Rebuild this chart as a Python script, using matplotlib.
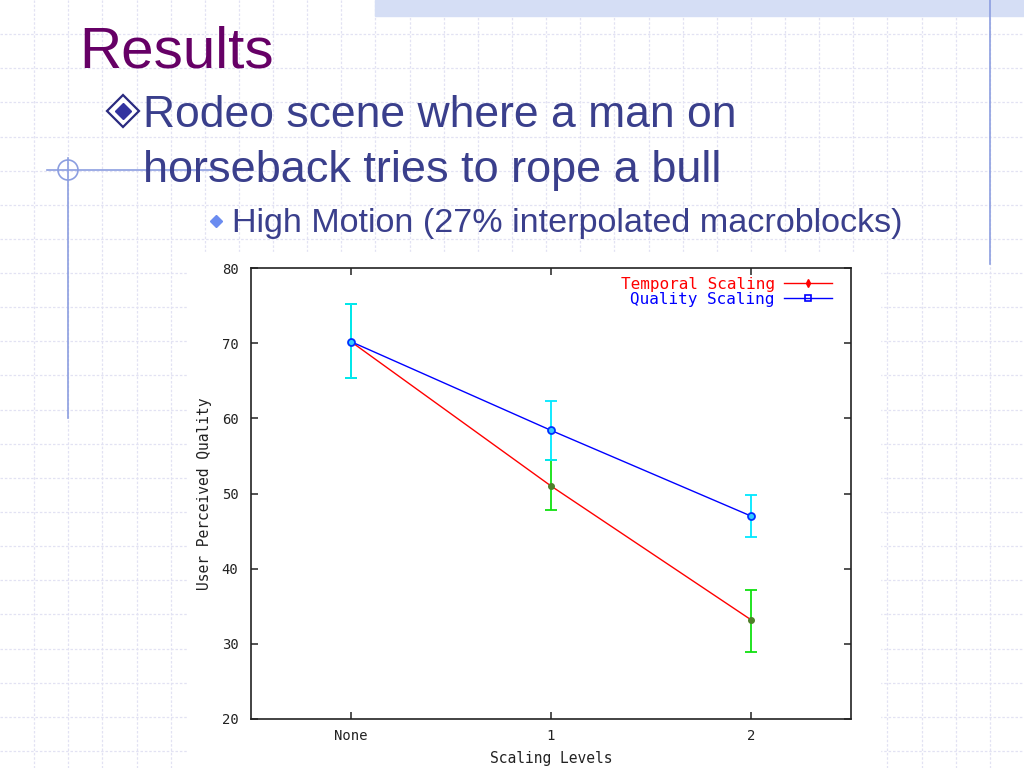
import matplotlib
matplotlib.use("Agg")
import matplotlib.pyplot as plt
from matplotlib.lines import Line2D
from matplotlib.patches import Rectangle, Circle

# Chart data
levels = ["None", "1", "2"]
temporal_mean = [70.2, 51.0, 33.2]
temporal_low = [65.4, 47.8, 28.9]
temporal_high = [75.2, 54.5, 37.2]
quality_mean = [70.2, 58.4, 47.0]
quality_low = [65.4, 54.5, 44.2]
quality_high = [75.2, 62.3, 49.8]

y_ticks = [20, 30, 40, 50, 60, 70, 80]

title = "Results"
bullet_lines = ["Rodeo scene where a man on", "horseback tries to rope a bull"]
sub_bullet = "High Motion (27% interpolated macroblocks)"

SLIDE_FONT = "Liberation Sans"
MONO = "DejaVu Sans Mono"
TEXT_BLUE = "#3a3f8c"

fig = plt.figure(figsize=(10.24, 7.68), dpi=100)

# ---- slide background in pixel coordinates ----
bg = fig.add_axes([0, 0, 1, 1])
bg.set_xlim(0, 1024)
bg.set_ylim(768, 0)
bg.axis("off")

step = 1024 / 30
grid_kw = dict(color="#e2e2f3", lw=0.9, linestyle=(0, (2, 1.5)), zorder=0)
for i in range(1, 30):
    bg.axvline(i * step, **grid_kw)
for j in range(1, 23):
    bg.axhline(j * step, **grid_kw)

# top strip and decorative lines
bg.add_patch(Rectangle((375, 0), 649, 16, color="#d5def5", zorder=1))
bg.plot([990, 990], [0, 264], color="#8c9ee0", lw=1.2, zorder=2)
bg.plot([68, 68], [158, 418], color="#8c9ee0", lw=1.2, zorder=2)
bg.plot([47, 215], [170, 170], color="#8c9ee0", lw=1.2, zorder=2)
bg.add_patch(Circle((68, 170), 10, fill=False, ec="#8c9ee0", lw=1.2, zorder=2))

# white area behind the chart picture
bg.add_patch(Rectangle((188, 252), 692, 516, color="white", zorder=1))

# slide texts
bg.text(79, 67, title, fontsize=42, color="#660066", family=SLIDE_FONT,
        va="baseline", ha="left", zorder=3)
bg.plot(123, 111, marker="D", ms=16.5, mfc="white", mec="#2a2a80", mew=1.6, zorder=3)
bg.plot(123, 111, marker="D", ms=8.5, mfc="#33339f", mec="#33339f", zorder=4)
bg.text(143, 127, bullet_lines[0], fontsize=32, color=TEXT_BLUE, family=SLIDE_FONT,
        va="baseline", ha="left", zorder=3)
bg.text(143, 182, bullet_lines[1], fontsize=32.5, color=TEXT_BLUE, family=SLIDE_FONT,
        va="baseline", ha="left", zorder=3)
bg.plot(216, 221, marker="D", ms=6, mfc="#6b8cf0", mec="#6b8cf0", zorder=3)
bg.text(232, 232, sub_bullet, fontsize=24.6, color=TEXT_BLUE, family=SLIDE_FONT,
        va="baseline", ha="left", zorder=3)

# ---- the chart ----
ax = fig.add_axes([251 / 1024, (768 - 719) / 768, 600 / 1024, 451 / 768])
ax.set_facecolor("white")
x = list(range(len(levels)))

t_err = [[m - lo for m, lo in zip(temporal_mean, temporal_low)],
         [hi - m for m, hi in zip(temporal_mean, temporal_high)]]
q_err = [[m - lo for m, lo in zip(quality_mean, quality_low)],
         [hi - m for m, hi in zip(quality_mean, quality_high)]]

ax.plot(x, temporal_mean, color="#ff0000", lw=1.0, zorder=2)
ax.errorbar(x, temporal_mean, yerr=t_err, fmt="o", ms=4, mfc="#4f7f2a", mec="#4f7f2a",
            ecolor="#10e010", elinewidth=1.3, capsize=4.5, capthick=1.3, zorder=3)
ax.plot(x, quality_mean, color="#0000ff", lw=1.0, zorder=4)
ax.errorbar(x, quality_mean, yerr=q_err, fmt="o", ms=5, mfc="#33ccff", mec="#0030ff",
            mew=1.3, ecolor="#00e8ff", elinewidth=1.3, capsize=4.5, capthick=1.3, zorder=5)

ax.set_xlim(-0.5, 2.5)
ax.set_ylim(20, 80)
ax.set_xticks(x)
ax.set_xticklabels(levels)
ax.set_yticks(y_ticks)
ax.tick_params(direction="in", length=5, width=1.1, top=True, right=True,
               labelsize=10, colors="#222222")
ax.tick_params(axis="y", pad=9)
ax.tick_params(axis="x", pad=7)
for lab in ax.get_xticklabels() + ax.get_yticklabels():
    lab.set_family(MONO)
for sp in ax.spines.values():
    sp.set_linewidth(1.2)
    sp.set_color("#222222")

ax.set_xlabel("Scaling Levels", family=MONO, fontsize=10.5, color="#222222", labelpad=6)
ax.set_ylabel("User Perceived Quality", family=MONO, fontsize=10.5, color="#222222", labelpad=7)

handles = [
    Line2D([], [], color="#ff0000", lw=1.0, marker="d", ms=4, mfc="#ff0000", mec="#ff0000"),
    Line2D([], [], color="#0000ff", lw=1.0, marker="s", ms=4.5, mfc="none", mec="#0000ff", mew=1.2),
]
leg = ax.legend(handles, ["Temporal Scaling", "Quality Scaling"], loc="upper right",
                bbox_to_anchor=(1 - 14 / 600, 1 - 4 / 451),
                frameon=False, markerfirst=False, handlelength=3.0, handletextpad=0.6,
                labelspacing=0.0, borderaxespad=0.0, borderpad=0.3,
                prop={"family": MONO, "size": 11.5})
for txt, col in zip(leg.get_texts(), ["#ff0000", "#0000ff"]):
    txt.set_color(col)

fig.savefig("out.png", dpi=100)
